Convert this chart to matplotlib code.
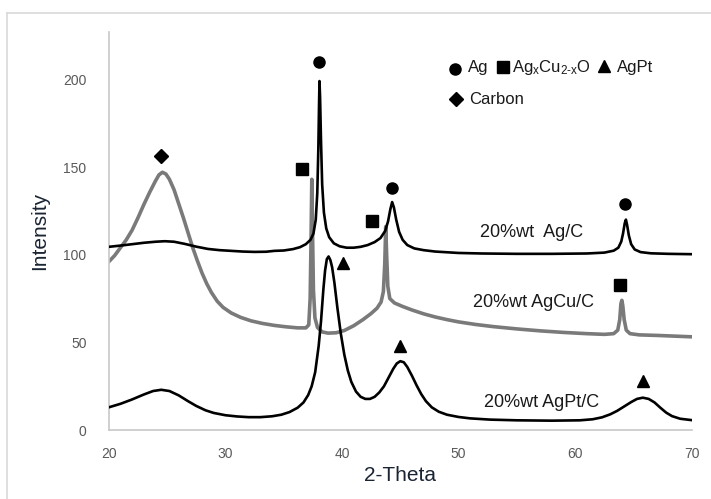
import matplotlib
matplotlib.use("Agg")
import matplotlib.pyplot as plt
from matplotlib.lines import Line2D

plt.rcParams["font.family"] = ["Liberation Sans", "DejaVu Sans"]
plt.rcParams["mathtext.fontset"] = "custom"
plt.rcParams["mathtext.rm"] = "Liberation Sans"
plt.rcParams["mathtext.it"] = "Liberation Sans"

# XRD scans (2-theta, intensity)
ag_theta = [20, 21, 22, 23, 24, 24.8, 25.6, 26.5, 27.5, 28.5, 29.5, 30.5, 31.5, 32.5, 33.5, 34.2,
            35, 35.8, 36.4, 36.9, 37.3, 37.55, 37.75, 37.88, 37.97, 38.03, 38.07, 38.12, 38.2,
            38.3, 38.45, 38.65, 38.9, 39.3, 39.8, 40.4, 41, 41.6, 42.2, 42.8, 43.3, 43.7, 43.95,
            44.15, 44.3, 44.45, 44.65, 44.9, 45.2, 45.6, 46.2, 47, 48, 50, 52, 55, 58, 61, 62.5,
            63.3, 63.7, 63.95, 64.1, 64.25, 64.35, 64.45, 64.6, 64.8, 65.1, 65.6, 66.5, 68, 70]
ag_int = [104.5, 105.2, 106, 106.8, 107.4, 107.7, 107.4, 106.2, 104.6, 103.3, 102.6, 102.2, 101.8,
          101.6, 101.7, 102.2, 102.4, 103.2, 104.3, 106, 108.5, 112, 120, 135, 160, 185, 199, 190,
          165, 140, 124, 115, 110, 106.5, 104.8, 104, 104, 104.5, 105.5, 107.2, 109.5, 113.5, 119,
          126, 130, 127, 120, 113, 108.5, 105.5, 103.6, 102.6, 101.8, 101, 100.7, 100.5, 100.5,
          100.7, 101.2, 102.3, 104, 107.5, 112, 118, 120, 117, 111, 106, 103, 101.5, 100.8, 100.5,
          100.3]

agcu_theta = [20, 20.5, 21, 21.5, 22, 22.5, 23, 23.5, 24, 24.3, 24.6, 24.9, 25.2, 25.6, 26, 26.4,
              26.8, 27.2, 27.6, 28, 28.4, 28.8, 29.3, 29.8, 30.5, 31.3, 32.2, 33.2, 34.2, 35.2,
              36.2, 36.9, 37.15, 37.27, 37.35, 37.41, 37.47, 37.55, 37.68, 37.9, 38.3, 38.8, 39.5,
              40.2, 41, 41.8, 42.5, 43, 43.35, 43.55, 43.67, 43.75, 43.83, 43.93, 44.1, 44.5, 45.2,
              46, 47, 48, 49, 50, 51.5, 53, 55, 57, 59, 61, 62.5, 63.3, 63.65, 63.82, 63.92, 64.0,
              64.08, 64.2, 64.38, 64.7, 65.5, 67, 68.5, 70]
agcu_int = [96, 99.5, 104, 108.5, 114, 121, 128.5, 135.5, 142, 145.5, 147, 146, 143, 137, 129, 121,
            112.5, 104, 96.5, 89.5, 83.5, 78.5, 73.5, 70, 66.8, 64.3, 62.3, 60.8, 59.7, 58.9, 58.3,
            58.3, 60, 75, 110, 143, 115, 80, 64, 58.5, 56, 55.3, 55.5, 56.8, 59.5, 63, 66.5, 69.5,
            73, 79, 95, 116, 100, 82, 75, 72.5, 70.5, 68.5, 66.3, 64.5, 63, 61.7, 60.2, 59, 57.7,
            56.6, 55.7, 55, 54.6, 55, 57, 63, 72, 74, 71, 63, 57, 55, 54.3, 54, 53.6, 53.2]

agpt_theta = [20, 21, 22, 23, 23.8, 24.5, 25.2, 26, 26.8, 27.5, 28.3, 29, 30, 31, 32, 33, 34, 34.8,
              35.5, 36.2, 36.7, 37.1, 37.4, 37.7, 38.0, 38.2, 38.4, 38.55, 38.7, 38.85, 39.0,
              39.15, 39.35, 39.6, 39.9, 40.2, 40.5, 40.8, 41.2, 41.6, 42.0, 42.4, 42.8, 43.2,
              43.6, 44.0, 44.4, 44.7, 45.0, 45.3, 45.6, 46.0, 46.4, 46.8, 47.2, 47.7, 48.3, 49,
              50, 51, 52.7, 55, 58, 60.4, 61.5, 62.3, 63, 63.6, 64.2, 64.8, 65.3, 65.8, 66.3,
              66.8, 67.3, 67.8, 68.3, 69, 70]
agpt_int = [13, 15, 17.5, 20.3, 22.3, 23, 22.3, 19.8, 16.5, 13.8, 11.3, 9.8, 8.5, 7.8, 7.4, 7.4,
            7.9, 8.8, 10.3, 12.8, 15.8, 20, 25, 33, 48, 62, 80, 91, 97.5, 99, 97, 93, 84, 70, 55,
            43, 34, 27.5, 22, 19, 17.8, 17.8, 19, 21.5, 25, 30, 35, 38, 39.3, 38.7, 36, 31, 25.5,
            20.5, 16.5, 13, 10.5, 8.8, 7.5, 6.7, 6, 5.6, 5.4, 5.6, 6.2, 7.3, 9, 11, 13.5, 16,
            17.8, 18.5, 17.8, 15.8, 12.8, 10, 8, 6.5, 5.7]

# phase markers above the reflections
ag_mark_x = [38.0, 44.3, 64.25]
ag_mark_y = [210, 138, 129]
cu2o_mark_x = [36.6, 42.6, 63.85]
cu2o_mark_y = [149, 119, 83]
agpt_mark_x = [40.1, 45.0, 65.8]
agpt_mark_y = [95, 48, 28]
carbon_mark_x = [24.5]
carbon_mark_y = [156]

sample_labels = ["20%wt  Ag/C", "20%wt AgCu/C", "20%wt AgPt/C"]

fig = plt.figure(figsize=(7.11, 4.99), dpi=100)
ax = fig.add_axes([0.153, 0.138, 0.82, 0.798])

ax.plot(agcu_theta, agcu_int, color="#7a7a7a", lw=2.6, zorder=2)
ax.plot(ag_theta, ag_int, color="black", lw=1.9, zorder=3)
ax.plot(agpt_theta, agpt_int, color="black", lw=1.9, zorder=3)

ax.plot(ag_mark_x, ag_mark_y, "o", color="black", ms=8, zorder=4)
ax.plot(cu2o_mark_x, cu2o_mark_y, "s", color="black", ms=8.5, zorder=4)
ax.plot(agpt_mark_x, agpt_mark_y, "^", color="black", ms=9, zorder=4)
ax.plot(carbon_mark_x, carbon_mark_y, "D", color="black", ms=7.5, zorder=4)

# sample names next to each scan
ax.text(51.8, 112.5, sample_labels[0], fontsize=13, va="center", color="#1a1a1a")
ax.text(51.2, 72.5, sample_labels[1], fontsize=13, va="center", color="#1a1a1a")
ax.text(52.2, 16, sample_labels[2], fontsize=13, va="center", color="#1a1a1a")

# key for the phase symbols
ax.plot([49.7], [206], "o", color="black", ms=8, clip_on=False)
ax.text(50.8, 206.5, "Ag", fontsize=12, va="center", color="#1a1a1a")
ax.plot([53.8], [207], "s", color="black", ms=8.5, clip_on=False)
ax.text(54.6, 206.5, r"Ag$_\mathregular{x}$Cu$_\mathregular{2\text{-}x}$O", fontsize=12,
        va="center", color="#1a1a1a")
ax.plot([62.5], [207.5], "^", color="black", ms=9, clip_on=False)
ax.text(63.6, 206.5, "AgPt", fontsize=12, va="center", color="#1a1a1a")
ax.plot([49.8], [188.5], "D", color="black", ms=7.5, clip_on=False)
ax.text(50.9, 188.5, "Carbon", fontsize=12, va="center", color="#1a1a1a")

ax.set_xlim(20, 70)
ax.set_ylim(0, 227)
ax.set_xticks([20, 30, 40, 50, 60, 70])
ax.set_yticks([0, 50, 100, 150, 200])
ax.tick_params(length=0, labelsize=10, labelcolor="#595959")
ax.tick_params(axis="y", pad=16)
ax.tick_params(axis="x", pad=12)
for side in ["top", "right"]:
    ax.spines[side].set_visible(False)
for side in ["left", "bottom"]:
    ax.spines[side].set_color("#c8c8c8")
    ax.spines[side].set_linewidth(1.2)

ax.set_xlabel("2-Theta", fontsize=15, color="#1a2433", labelpad=4)
ax.set_ylabel("Intensity", fontsize=15, color="#1a2433", labelpad=10)

# frame edge along the top and left of the figure
fig.add_artist(Line2D([7 / 711, 1.0], [1 - 13 / 499] * 2, color="#d9d9d9", lw=1.2))
fig.add_artist(Line2D([7 / 711] * 2, [0.0, 1 - 13 / 499], color="#d9d9d9", lw=1.2))

fig.savefig("out.png", dpi=100)
